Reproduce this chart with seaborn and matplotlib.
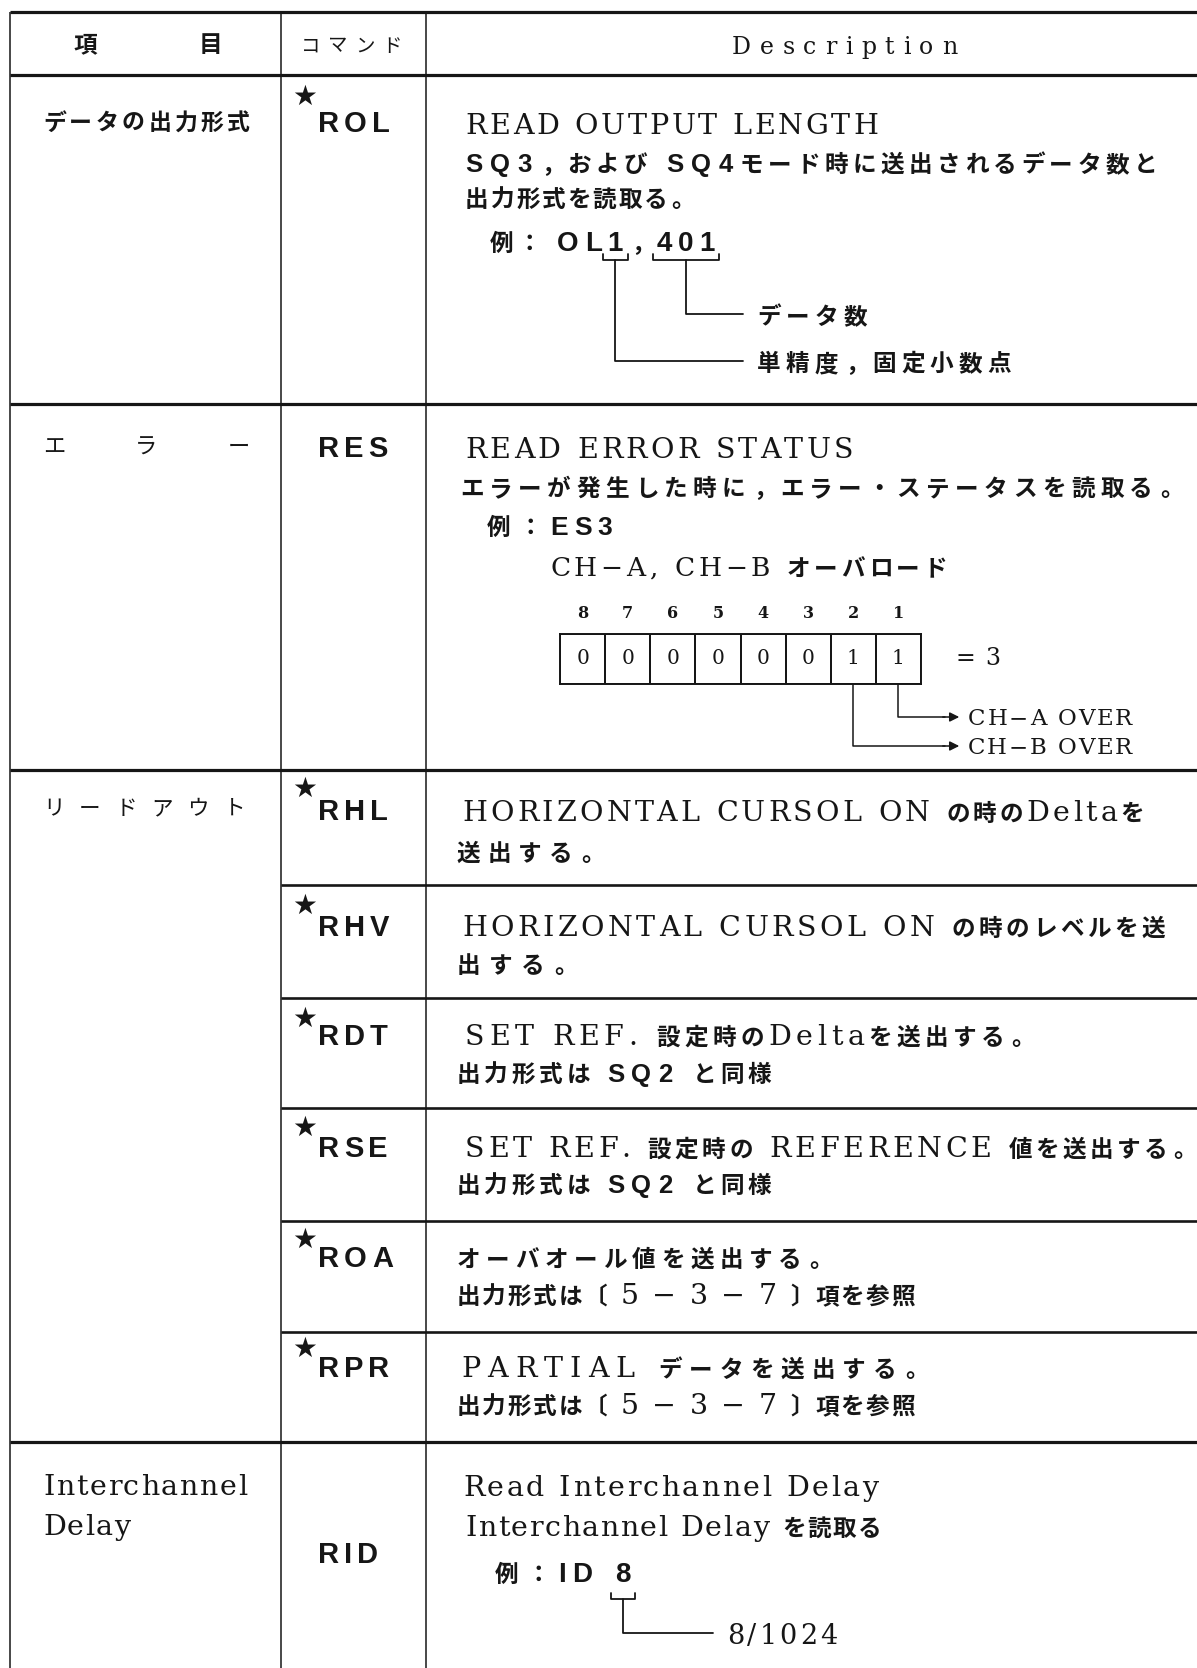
import numpy as np
import matplotlib.pyplot as plt
from matplotlib.colors import ListedColormap
import seaborn as sns

# ── DATA ─────────────────────────────────────────────────────────────────────
header_item = "項目"
header_cmd = "コマンド"
header_desc = "Description"

item_labels = ["データの出力形式", "エラー", "リードアウト"]
item_latin = ["Interchannel", "Delay"]

commands = ["ROL", "RES", "RHL", "RHV", "RDT", "RSE", "ROA", "RPR", "RID"]
starred = [True, False, True, True, True, True, True, True, False]

desc_rol = ["READ OUTPUT LENGTH",
            "**SQ3**，および **SQ4**モード時に送出されるデータ数と",
            "出力形式を読取る。",
            "例： **OL1**，**401**"]
rol_notes = ["データ数", "単精度，固定小数点"]

desc_res = ["READ ERROR STATUS",
            "エラーが発生した時に，エラー・ステータスを読取る。",
            "例：**ES3**",
            "CH−A, CH−B オーバロード"]
bit_numbers = [8, 7, 6, 5, 4, 3, 2, 1]
bit_values = [0, 0, 0, 0, 0, 0, 1, 1]
res_total = "= 3"
res_flags = ["CH−A OVER", "CH−B OVER"]      # bit 1, bit 2

desc_readout = [
    ["HORIZONTAL CURSOL ON の時のDeltaを", "送出する。"],
    ["HORIZONTAL CURSOL ON の時のレベルを送", "出する。"],
    ["SET REF. 設定時のDeltaを送出する。", "出力形式は **SQ2** と同様"],
    ["SET REF. 設定時の REFERENCE 値を送出する。", "出力形式は **SQ2** と同様"],
    ["オーバオール値を送出する。", "出力形式は〔 5 − 3 − 7 〕項を参照"],
    ["PARTIAL データを送出する。", "出力形式は〔 5 − 3 − 7 〕項を参照"],
]
desc_rid = ["Read Interchannel Delay", "Interchannel Delay を読取る", "例：**ID 8**"]
rid_note = "8/1024"

# ── LAYOUT (pixels) ──────────────────────────────────────────────────────────
W, H = 1197, 1668
PX = 100 / 72
X_LEFT, X_C1, X_C2 = 10, 281, 426
Y_TOP, Y_HEAD = 12, 75
major_rows = [404, 770, 1442]
minor_rows = [885, 998, 1108, 1221, 1332]

cmd_y = [122, 447, 810, 926, 1035, 1147, 1257, 1367, 1553]
star_y = [97, None, 789, 906, 1019, 1128, 1240, 1349, None]

rol_pos = [(465, 878, 134), (465, 1157, 172), (465, 693, 207), (490, None, 251)]
res_pos = [(465, 853, 458), (460, 1182, 496), (487, None, 535), (550, 947, 576)]
readout_pos = [[(462, 1144, 821), (457, 603, 861)],
               [(462, 1165, 936), (457, 576, 973)],
               [(465, 1033, 1045), (457, 771, 1082)],
               [(465, 1195, 1157), (457, 771, 1193)],
               [(457, 831, 1267), (457, 915, 1304)],
               [(461, 927, 1377), (457, 915, 1414)]]
rid_pos = [(463, 878, 1496), (465, 881, 1536), (495, None, 1582)]

LAT_F, JP_F, BOLD_F = "DejaVu Serif", "Noto Sans CJK JP", "Liberation Sans"
INK = "#161616"

sns.set_theme(style="white")
plt.rcParams["font.family"] = [LAT_F, JP_F, "DejaVu Sans"]

fig = plt.figure(figsize=(W / 100, H / 100), dpi=100)
ax = fig.add_axes([0, 0, 1, 1])
ax.set_xlim(0, W)
ax.set_ylim(H, 0)
ax.axis("off")
renderer = fig.canvas.get_renderer()

_ink = {}


def ink(c, family, size, weight):
    key = (c, family, size, weight)
    if key not in _ink:
        t = ax.text(0, 0, c, family=family, size=size, weight=weight)
        _ink[key] = t.get_window_extent(renderer).width
        t.remove()
    return _ink[key]


def glyphs(s):
    out = []
    for k, part in enumerate(s.split("**")):
        out += [(c, k % 2 == 1) for c in part]
    return out


def draw_line(s, x0, base, x1=None, lat=20.5, jp=17, bold=18.5,
              t_lat=2.0, t_jp=2.0, t_b=5.0, space=0.42, jw="bold"):
    items = []
    for c, b in glyphs(s):
        if c == " ":
            w = space * lat * PX
            items.append([c, "sp", lat, w, w])
        elif b:
            w = ink(c, BOLD_F, bold, "bold")
            items.append([c, "b", bold, w, w + t_b])
        elif ord(c) < 0x2000 or c == "−":
            w = ink(c, LAT_F, lat, "normal")
            items.append([c, "l", lat, w, w + t_lat])
        else:
            w = jp * PX
            items.append([c, "j", jp, w, w + t_jp])
    total = sum(it[4] for it in items[:-1]) + items[-1][3]
    extra = 0.0
    if x1 is not None and len(items) > 1:
        extra = (x1 - x0 - total) / (len(items) - 1)
    x, spans = x0, []
    for c, kind, size, w, adv in items:
        if kind == "l":
            ax.text(x, base, c, family=LAT_F, size=size,
                    ha="left", va="baseline", color=INK)
        elif kind == "b":
            ax.text(x, base, c, family=BOLD_F, size=size, weight="bold",
                    ha="left", va="baseline", color=INK)
        elif kind == "j":
            if c in "。，、":
                ax.text(x + 0.08 * w, base, c, family=JP_F, size=size,
                        weight=jw, ha="left", va="baseline", color=INK)
            else:
                ax.text(x + w / 2, base, c, family=JP_F, size=size,
                        weight=jw, ha="center", va="baseline", color=INK)
        spans.append((x, x + w))
        x += adv + extra
    return spans


def spread(s, x0, x1, yc, size, weight="normal"):
    em = size * PX
    step = (x1 - x0 - em) / (len(s) - 1)
    for k, c in enumerate(s):
        ax.text(x0 + em / 2 + k * step, yc, c, family=JP_F, size=size,
                weight=weight, ha="center", va="center", color=INK)


def bracket(xl, xr, y, depth=6):
    ax.plot([xl, xl, xr, xr], [y - depth, y, y, y - depth], color=INK, lw=1.3)
    return (xl + xr) / 2


# ── TABLE RULES ──────────────────────────────────────────────────────────────
ax.hlines([Y_TOP, Y_HEAD] + major_rows, X_LEFT, W, color=INK, lw=2.3)
ax.hlines(minor_rows, X_C1, W, color=INK, lw=1.9)
ax.vlines([X_LEFT, X_C1, X_C2], Y_TOP, H, color=INK, lw=1.1)

# ── HEADER ───────────────────────────────────────────────────────────────────
spread(header_item, 74, 222, 45, 17, weight="bold")
spread(header_cmd, 301, 402, 46, 14)
draw_line(header_desc, 732, 54, 957, lat=17)

# ── ITEM COLUMN ──────────────────────────────────────────────────────────────
spread(item_labels[0], 43, 250, 123, 16.5, weight="bold")
spread(item_labels[1], 43, 250, 447, 16)
spread(item_labels[2], 43, 245, 809, 15.5)
draw_line(item_latin[0], 43, 1495, 247)
draw_line(item_latin[1], 43, 1535, 130)

# ── COMMAND COLUMN ───────────────────────────────────────────────────────────
for cmd, st, yc, sy in zip(commands, starred, cmd_y, star_y):
    draw_line("**" + cmd + "**", 318, yc + 10, bold=21, t_b=5)
    if st:
        ax.text(305, sy, "★", family="DejaVu Sans", size=20,
                ha="center", va="center", color=INK)

# ── ROL ──────────────────────────────────────────────────────────────────────
for k, (line, (x0, x1, b)) in enumerate(zip(desc_rol, rol_pos)):
    if k == 3:
        sp = draw_line(line, x0, b, x1, bold=20, t_jp=4, t_b=6)
    else:
        sp = draw_line(line, x0, b, x1)
m1 = bracket(sp[5][0] - 5, sp[5][1] + 5, 260)
m401 = bracket(sp[7][0] - 4, sp[9][1] + 4, 260)
note_y = [314, 361]
ax.plot([m401, m401, 743], [260, note_y[0], note_y[0]], color=INK, lw=1.3)
ax.plot([m1, m1, 743], [260, note_y[1], note_y[1]], color=INK, lw=1.3)
draw_line(rol_notes[0], 757, note_y[0] + 10, 867)
draw_line(rol_notes[1], 757, note_y[1] + 10, 1011)

# ── RES ──────────────────────────────────────────────────────────────────────
for k, (line, (x0, x1, b)) in enumerate(zip(desc_res, res_pos)):
    if k == 2:
        draw_line(line, x0, b, x1, bold=19, t_jp=8, t_b=6)
    elif k == 3:
        draw_line(line, x0, b, x1, lat=19)
    else:
        draw_line(line, x0, b, x1)

BX0, BX1, BY0, BY1 = 560, 921, 634, 684
ax_bits = fig.add_axes([BX0 / W, 1 - BY1 / H, (BX1 - BX0) / W, (BY1 - BY0) / H])
sns.heatmap(np.array([bit_values]), ax=ax_bits, annot=True, fmt="d",
            cmap=ListedColormap(["white"]), cbar=False, linewidths=1.2,
            linecolor=INK, xticklabels=bit_numbers, yticklabels=False,
            annot_kws=dict(family=LAT_F, size=14.5, color=INK))
ax_bits.xaxis.tick_top()
ax_bits.tick_params(axis="x", length=0, pad=9, labelsize=11.5, colors=INK)
for lbl in ax_bits.get_xticklabels():
    lbl.set_family(LAT_F)
    lbl.set_weight("bold")
for spine in ax_bits.spines.values():
    spine.set_visible(True)
    spine.set_color(INK)
    spine.set_linewidth(1.4)

draw_line(res_total, 955, 665, 1000, lat=17)
cell = (BX1 - BX0) / len(bit_values)
flag_y = [717, 746]
for bit_idx, fy, txt in zip([7, 6], flag_y, res_flags):
    xb = BX0 + (bit_idx + 0.5) * cell
    ax.plot([xb, xb, 945], [BY1, fy, fy], color=INK, lw=1.1)
    ax.annotate("", xy=(962, fy), xytext=(940, fy),
                arrowprops=dict(arrowstyle="-|>", color=INK, lw=1.1,
                                mutation_scale=14))
    draw_line(txt, 968, fy + 8, 1132, lat=16.5)

# ── READ-OUT ROWS ────────────────────────────────────────────────────────────
for lines, pos in zip(desc_readout, readout_pos):
    for line, (x0, x1, b) in zip(lines, pos):
        draw_line(line, x0, b, x1)

# ── RID ──────────────────────────────────────────────────────────────────────
for k, (line, (x0, x1, b)) in enumerate(zip(desc_rid, rid_pos)):
    if k == 2:
        sp = draw_line(line, x0, b, x1, bold=20, t_jp=8, t_b=6, space=0.6)
    else:
        sp = draw_line(line, x0, b, x1)
m8 = bracket(sp[5][0] - 4, sp[5][1] + 4, 1599)
ax.plot([m8, m8, 713], [1599, 1633, 1633], color=INK, lw=1.3)
draw_line(rid_note, 727, 1644, 837, lat=19.5)

fig.savefig("out.png", dpi=100, facecolor="white")
